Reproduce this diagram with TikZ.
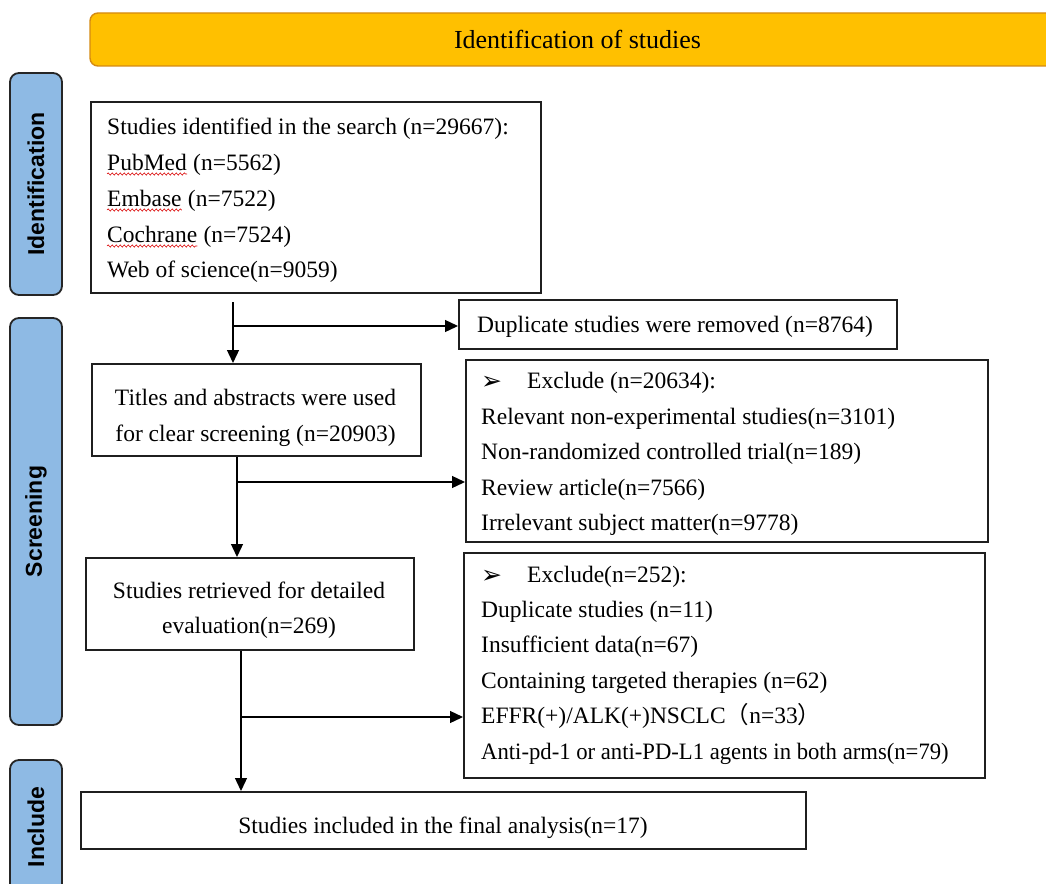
\documentclass[tikz,border=0pt]{standalone}
\usepackage{fontspec}
\usetikzlibrary{arrows.meta,decorations.pathmorphing}
\setmainfont{Liberation Serif}
\newfontfamily\sidefont{Liberation Sans}
\newfontfamily\dingfont{DejaVu Sans}
\newfontfamily\cjkfont{Noto Sans CJK SC}
\definecolor{sideblue}{RGB}{142,186,228}
\definecolor{hdrfill}{RGB}{255,192,0}
\definecolor{hdrdraw}{RGB}{212,138,18}
\tikzset{
  box/.style={draw=black!88, line width=1.8pt, inner sep=0pt, anchor=north west},
  side/.style={draw=black!85, line width=1.8pt, fill=sideblue, rounded corners=9pt, rotate=90,
    font={\sidefont\bfseries\fontsize{23}{23}\selectfont}, inner sep=0pt},
  arr/.style={line width=1.3pt, draw=black, -{Triangle[length=13pt,width=12pt]}},
  ln/.style={anchor=base west, inner sep=0pt, font={\fontsize{23.5}{28}\selectfont}},
  cl/.style={anchor=base, inner sep=0pt, font={\fontsize{23.5}{28}\selectfont}},
  bull/.style={anchor=base west, inner sep=0pt, font={\dingfont\fontsize{25}{25}\selectfont}},
  wavy/.style={draw=red!85!black, line width=0.6pt, decorate, decoration={snake, amplitude=1.1pt, segment length=4pt}},
}
\begin{document}
\begin{tikzpicture}[x=1pt,y=-1pt]
\useasboundingbox (0,0) rectangle (1046,883);
% header
\node[draw=hdrdraw, line width=1.4pt, fill=hdrfill, rounded corners=8pt, minimum width=975, minimum height=53,
  font={\fontsize{26}{26}\selectfont}, inner sep=0pt] (hdr) at (577.5,39.5) {Identification of studies};
% side bars
\node[side, minimum width=222, minimum height=52] (sid) at (36,184) {Identification};
\node[side, minimum width=407, minimum height=52] (sscr) at (36,521.5) {Screening};
\node[side, minimum width=134, minimum height=52] (sinc) at (36,827) {Include};
% boxes
\node[box, minimum width=450, minimum height=191] (b1) at (90,101) {};
\node[box, minimum width=438, minimum height=49] (dup) at (458,299) {};
\node[box, minimum width=329, minimum height=92] (b2) at (91,363) {};
\node[box, minimum width=522, minimum height=182] (ex1) at (465,359) {};
\node[box, minimum width=328, minimum height=92] (b3) at (85,557) {};
\node[box, minimum width=521, minimum height=225] (ex2) at (463,552) {};
\node[box, minimum width=725, minimum height=57] (fin) at (80,791) {};
% box 1 text
\node[ln] (b1l1) at (107,134) {Studies identified in the search (n=29667):};
\node[ln] (pm) at (107,170) {PubMed};
\node[ln] (pmn) at ([xshift=6pt]pm.base east) {(n=5562)};
\node[ln] (em) at (107,206) {Embase};
\node[ln] (emn) at ([xshift=6pt]em.base east) {(n=7522)};
\node[ln] (co) at (107,242) {Cochrane};
\node[ln] (con) at ([xshift=6pt]co.base east) {(n=7524)};
\node[ln] (b1l5) at (107,277) {Web of science(n=9059)};
\draw[wavy] ([yshift=-4pt]pm.base west) -- ([yshift=-4pt]pm.base east);
\draw[wavy] ([yshift=-4pt]em.base west) -- ([yshift=-4pt]em.base east);
\draw[wavy] ([yshift=-4pt]co.base west) -- ([yshift=-4pt]co.base east);
% duplicate text
\node[ln] (dupt) at (477,332) {Duplicate studies were removed (n=8764)};
% box 2 text
\node[cl] (b2l1) at (255.5,405) {Titles and abstracts were used};
\node[cl] (b2l2) at (255.5,441) {for clear screening (n=20903)};
% exclude 1 text
\node[bull] (ex1b) at (481,389) {➢};
\node[ln] (ex1l1) at (527,388) {Exclude (n=20634):};
\node[ln] (ex1l2) at (481,424) {Relevant non-experimental studies(n=3101)};
\node[ln] (ex1l3) at (481,459) {Non-randomized controlled trial(n=189)};
\node[ln] (ex1l4) at (481,495) {Review article(n=7566)};
\node[ln] (ex1l5) at (481,530) {Irrelevant subject matter(n=9778)};
% box 3 text
\node[cl] (b3l1) at (249,598) {Studies retrieved for detailed};
\node[cl] (b3l2) at (249,633) {evaluation(n=269)};
% exclude 2 text
\node[bull] (ex2b) at (481,583) {➢};
\node[ln] (ex2l1) at (527,582) {Exclude(n=252):};
\node[ln] (ex2l2) at (481,617) {Duplicate studies (n=11)};
\node[ln] (ex2l3) at (481,652) {Insufficient data(n=67)};
\node[ln] (ex2l4) at (481,688) {Containing targeted therapies (n=62)};
\node[ln] (ex2l5) at (481,723) {EFFR(+)/ALK(+)NSCLC{\cjkfont （}n=33{\cjkfont ）}};
\node[ln] (ex2l6) at (481,759) {\scalebox{0.965}[1]{Anti-pd-1 or anti-PD-L1 agents in both arms(n=79)}};
% final text
\node[cl] (fint) at (443,833) {Studies included in the final analysis(n=17)};
% connectors
\coordinate (s1) at (233,302);
\coordinate (br1) at (233,326);
\draw[arr] (s1) -- (s1 |- b2.north);
\draw[arr] (br1) -- (br1 -| dup.west);
\coordinate (s2) at (b2.south -| 237,0);
\coordinate (br2) at (237,482);
\draw[arr] (s2) -- (s2 |- b3.north);
\draw[arr] (br2) -- (br2 -| ex1.west);
\coordinate (s3) at (b3.south -| 241,0);
\coordinate (br3) at (241,717);
\draw[arr] (s3) -- (s3 |- fin.north);
\draw[arr] (br3) -- (br3 -| ex2.west);
\end{tikzpicture}
\end{document}
